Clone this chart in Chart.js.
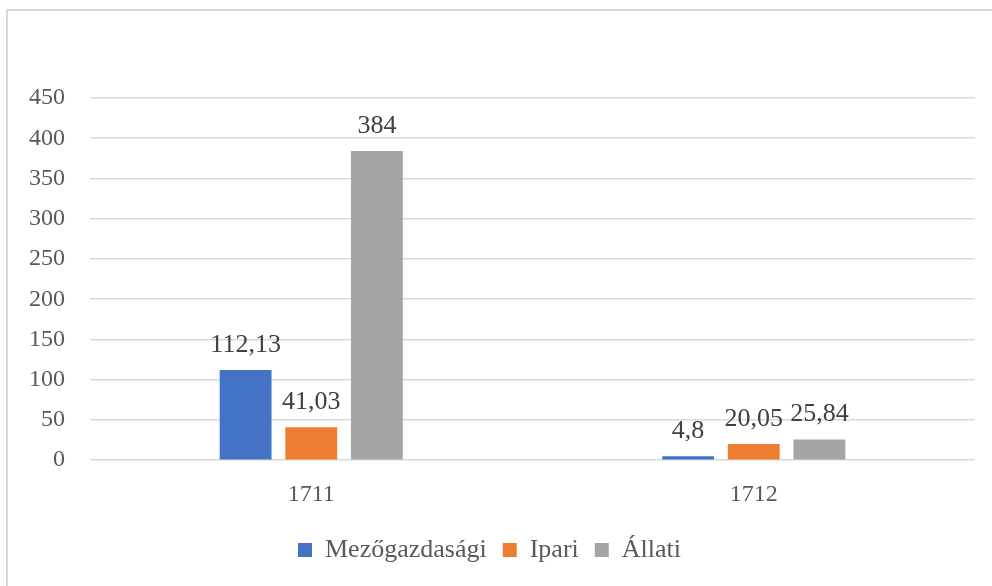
<!DOCTYPE html>
<html>
<head>
<meta charset="utf-8">
<script src="https://cdn.jsdelivr.net/npm/chart.js@4/dist/chart.umd.min.js"></script>
<style>
  html, body { margin: 0; padding: 0; background: #fff; }
  #wrap { position: relative; width: 992px; height: 586px; }
  #frame { position: absolute; left: 6px; top: 9px; right: 0; bottom: 0;
           border-left: 2px solid #d9d9d9; border-top: 2px solid #d9d9d9; }
  canvas { position: absolute; left: 0; top: 0; }
</style>
</head>
<body>
<div id="wrap">
  <div id="frame"></div>
  <canvas id="chart" width="992" height="586"></canvas>
</div>
<script>
const years = ["1711", "1712"];
const mezogazdasagi = [112.13, 4.8];
const ipari = [41.03, 20.05];
const allati = [384, 25.84];

const serif = "'Liberation Serif', 'DejaVu Serif', serif";

// value labels above each bar, Hungarian decimal comma
const barLabels = {
  id: "barLabels",
  afterDatasetsDraw(chart) {
    const ctx = chart.ctx;
    ctx.save();
    ctx.font = "26px " + serif;
    ctx.fillStyle = "#404040";
    ctx.textAlign = "center";
    ctx.textBaseline = "bottom";
    chart.data.datasets.forEach((ds, i) => {
      chart.getDatasetMeta(i).data.forEach((bar, j) => {
        ctx.fillText(String(ds.data[j]).replace(".", ","), bar.x, bar.y - 12);
      });
    });
    ctx.restore();
  }
};

new Chart(document.getElementById("chart").getContext("2d"), {
  type: "bar",
  data: {
    labels: years,
    datasets: [
      { label: "Mezőgazdasági", data: mezogazdasagi, backgroundColor: "#4472C4" },
      { label: "Ipari", data: ipari, backgroundColor: "#ED7D31" },
      { label: "Állati", data: allati, backgroundColor: "#A5A5A5" }
    ]
  },
  options: {
    responsive: false,
    animation: false,
    categoryPercentage: 0.445,
    barPercentage: 0.79,
    layout: { padding: { top: 98, left: 4, right: 17, bottom: 13 } },
    plugins: {
      legend: {
        position: "bottom",
        labels: {
          boxWidth: 14, boxHeight: 14, padding: 16,
          color: "#595959",
          font: { family: serif, size: 26 }
        }
      },
      tooltip: { enabled: false }
    },
    scales: {
      x: {
        grid: { display: false },
        border: { display: false },
        ticks: { color: "#595959", font: { family: serif, size: 24 }, padding: 12 }
      },
      y: {
        min: 0, max: 450,
        ticks: { stepSize: 50, color: "#595959", font: { family: serif, size: 24 }, padding: 25 },
        grid: { color: "#d9d9d9", lineWidth: 1.5, drawTicks: false },
        border: { display: false }
      }
    }
  },
  plugins: [barLabels]
});
</script>
</body>
</html>
